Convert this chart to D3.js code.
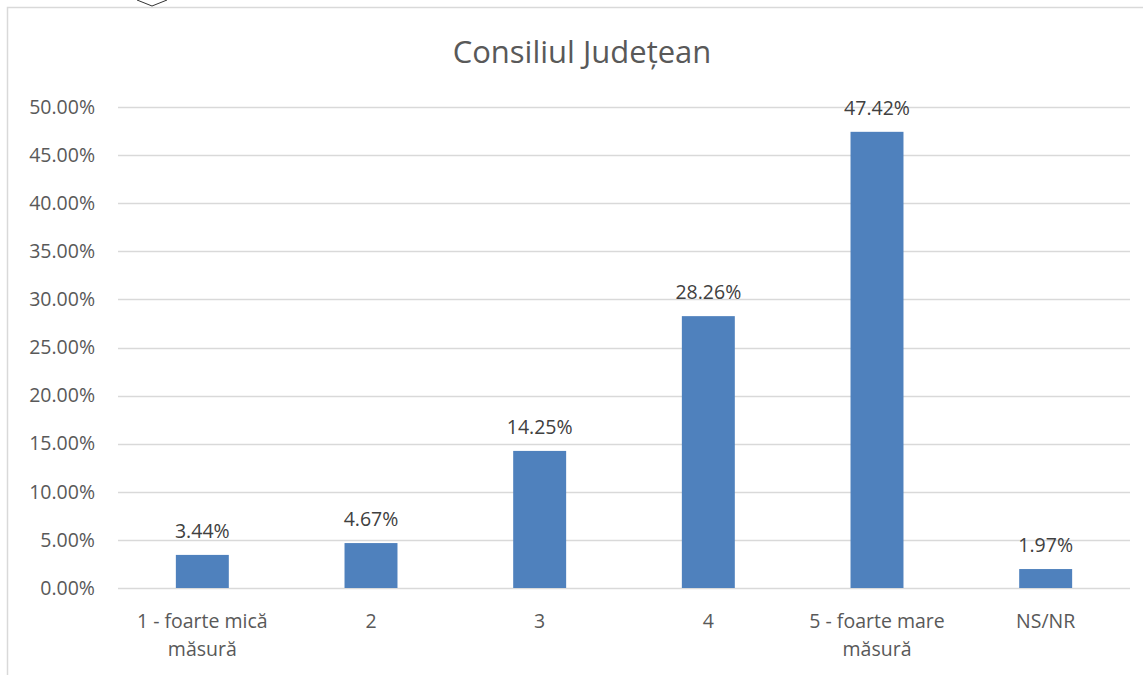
<!DOCTYPE html>
<html><head><meta charset="utf-8">
<script src="https://cdn.jsdelivr.net/npm/d3@7"></script>
<style>
html,body{margin:0;padding:0;background:#fff;}
svg{display:block;font-family:"Open Sans",sans-serif;}
</style></head>
<body><svg id="c" width="1143" height="675"></svg>
<script>
const title = "Consiliul Județean";
const categories = ["1 - foarte mică măsură", "2", "3", "4", "5 - foarte mare măsură", "NS/NR"];
const categoryLines = [["1 - foarte mică","măsură"],["2"],["3"],["4"],["5 - foarte mare","măsură"],["NS/NR"]];
const values = [3.44, 4.67, 14.25, 28.26, 47.42, 1.97];
const yTicks = [0,5,10,15,20,25,30,35,40,45,50];

const svg = d3.select("#c");
const W = 1143, H = 675;
const m = {left:118, right:13, top:107, bottom:87};
const FS = 19.5;

// chart border
svg.append("path").attr("d", d3.line()([[7.5,H],[7.5,7.5],[W,7.5]]))
  .attr("fill","none").attr("stroke","#d9d9d9").attr("stroke-width",1.5);
// small shape fragment at top
svg.append("path").attr("d", d3.line()([[137,0],[152,6],[167,0]]))
  .attr("fill","none").attr("stroke","#333").attr("stroke-width",1);

const x = d3.scaleBand().domain(categories).range([m.left, W-m.right]).paddingInner(0.686).paddingOuter(0.343);
const y = d3.scaleLinear().domain([0,50]).range([H-m.bottom, m.top]);

// gridlines
svg.append("g").selectAll("line").data(yTicks).join("line")
  .attr("x1", m.left).attr("x2", W-m.right)
  .attr("y1", d=>Math.round(y(d))+0.5).attr("y2", d=>Math.round(y(d))+0.5)
  .attr("stroke","#d9d9d9").attr("stroke-width",1.3);

// y axis labels
const yAxis = d3.axisLeft(y).tickValues(yTicks).tickFormat(d=>d.toFixed(2)+"%").tickSize(0).tickPadding(23);
const ga = svg.append("g").attr("transform",`translate(${m.left},0)`).call(yAxis);
ga.select(".domain").remove();
ga.selectAll("text").attr("fill","#595959").attr("font-size",FS).attr("font-family","Open Sans");

// bars
svg.append("g").selectAll("rect").data(values).join("rect")
  .attr("x",(d,i)=>x(categories[i])).attr("width",x.bandwidth())
  .attr("y",d=>y(d)).attr("height",d=>y(0)-y(d))
  .attr("fill","#4f81bd");

// data labels
svg.append("g").selectAll("text").data(values).join("text")
  .attr("x",(d,i)=>x(categories[i])+x.bandwidth()/2)
  .attr("y",d=>y(d)-17)
  .attr("text-anchor","middle").attr("fill","#404040").attr("font-size",FS)
  .text(d=>d.toFixed(2)+"%");

// category labels
const cg = svg.append("g").selectAll("text").data(categoryLines).join("text")
  .attr("x",(d,i)=>x(categories[i])+x.bandwidth()/2)
  .attr("y", 628)
  .attr("text-anchor","middle").attr("fill","#595959").attr("font-size",FS);
cg.each(function(lines,i){
  const t = d3.select(this);
  const cx = x(categories[i])+x.bandwidth()/2;
  lines.forEach((l,k)=>t.append("tspan").attr("x",cx).attr("dy",k===0?0:28).text(l));
});

// title
svg.append("text").attr("x",582).attr("y",63).attr("text-anchor","middle")
  .attr("fill","#595959").attr("font-size",31).text(title);
</script></body></html>
